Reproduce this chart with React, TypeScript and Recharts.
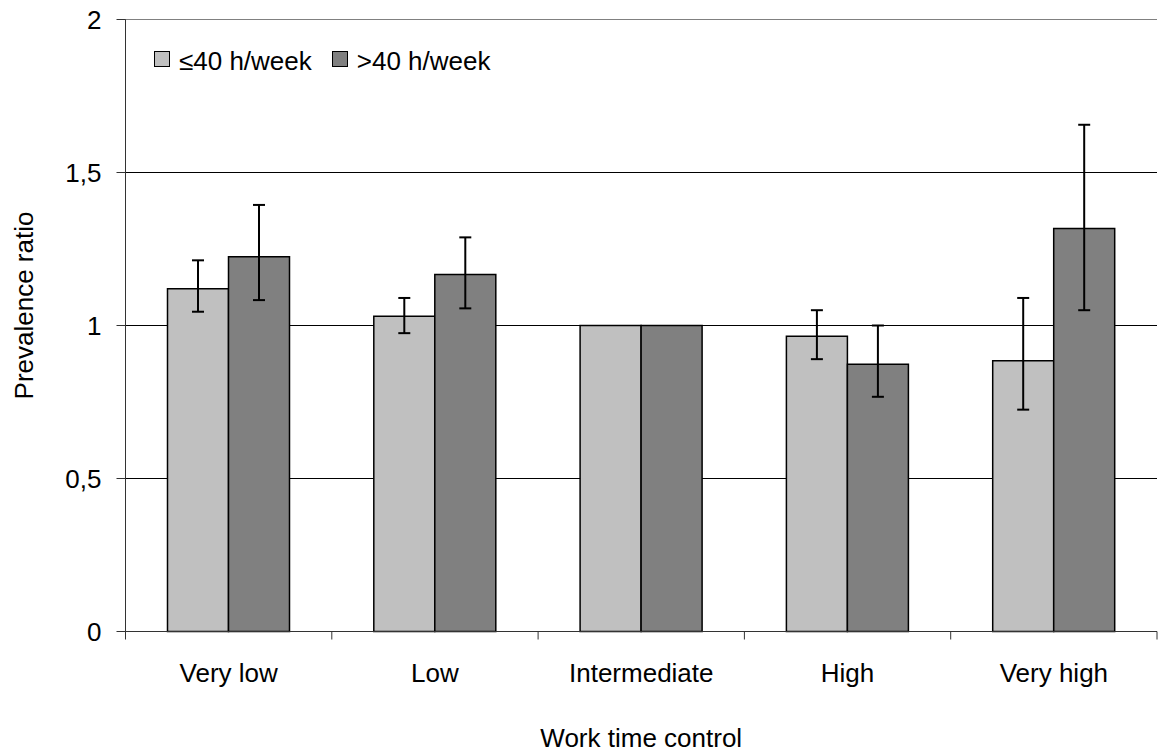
import React from "react"
import {
  Bar,
  BarChart,
  CartesianGrid,
  ErrorBar,
  ReferenceLine,
  XAxis,
  YAxis,
} from "recharts"

const FONT = "Arial, 'Liberation Sans', sans-serif"

const categories = ["Very low", "Low", "Intermediate", "High", "Very high"]

// prevalence ratio, ≤40 h/week
const shortWeek = [1.12, 1.03, 1.0, 0.965, 0.885]
const shortWeekLow = [1.045, 0.975, null, 0.89, 0.725]
const shortWeekHigh = [1.213, 1.09, null, 1.05, 1.09]

// prevalence ratio, >40 h/week
const longWeek = [1.225, 1.167, 1.0, 0.873, 1.317]
const longWeekLow = [1.083, 1.056, null, 0.767, 1.05]
const longWeekHigh = [1.394, 1.288, null, 1.0, 1.656]

const yTicks = [0, 0.5, 1, 1.5, 2]

const LIGHT = "#c0c0c0"
const DARK = "#808080"

const errDelta = (v: number, lo: number | null, hi: number | null) =>
  lo == null || hi == null ? null : [v - lo, hi - v]

const data = categories.map((name, i) => ({
  name,
  short: shortWeek[i],
  shortErr: errDelta(shortWeek[i], shortWeekLow[i], shortWeekHigh[i]),
  long: longWeek[i],
  longErr: errDelta(longWeek[i], longWeekLow[i], longWeekHigh[i]),
}))

const X_TICK_SIZE = 8
const X_TICK_MARGIN = 24

const CategoryTick = (props: any) => {
  const { x, y, payload, index, visibleTicksCount } = props
  const half = payload?.offset ?? 103
  const axisY = y - X_TICK_SIZE - X_TICK_MARGIN
  const last = index === (visibleTicksCount ?? categories.length) - 1
  return (
    <g>
      <line x1={x - half} x2={x - half} y1={axisY} y2={axisY + X_TICK_SIZE} stroke="#333" />
      {last && (
        <line x1={x + half} x2={x + half} y1={axisY} y2={axisY + X_TICK_SIZE} stroke="#333" />
      )}
      <text
        x={x}
        y={y}
        dy="0.71em"
        textAnchor="middle"
        fill="#000"
        fontSize={26}
        fontFamily={FONT}
      >
        {payload.value}
      </text>
    </g>
  )
}

const LegendBox = () => {
  const swatch = (fill: string, ml: number) => (
    <span
      style={{
        display: "inline-block",
        width: 16,
        height: 16,
        boxSizing: "border-box",
        border: "1px solid #000",
        background: fill,
        marginLeft: ml,
        marginRight: 9,
        position: "relative",
        top: -2,
      }}
    />
  )
  return (
    <div
      style={{
        position: "absolute",
        top: 46,
        left: 154,
        display: "flex",
        alignItems: "center",
        fontFamily: FONT,
        fontSize: 26,
        lineHeight: "30px",
        color: "#000",
        whiteSpace: "nowrap",
      }}
    >
      {swatch(LIGHT, 0)}
      <span>≤40 h/week</span>
      {swatch(DARK, 20)}
      <span>&gt;40 h/week</span>
    </div>
  )
}

const YTitle = (props: any) => {
  const vb = props.viewBox || { x: 0, y: 20, height: 612 }
  const cx = vb.x + 33
  const cy = vb.y + vb.height / 2 - 20
  return (
    <text
      x={cx}
      y={cy}
      transform={`rotate(-90, ${cx}, ${cy})`}
      textAnchor="middle"
      fill="#000"
      fontSize={26}
      fontFamily={FONT}
    >
      Prevalence ratio
    </text>
  )
}

export default function App() {
  return (
    <div style={{ position: "absolute", left: 0, top: 0, width: 1169, height: 754, background: "#fff" }}>
      <BarChart
        width={1169}
        height={754}
        data={data}
        margin={{ top: 19.5, right: 12, bottom: 0, left: 0 }}
        barGap={0}
        barCategoryGap={42}
      >
        <CartesianGrid vertical={false} stroke="#000" strokeWidth={1} />
        <ReferenceLine y={2} stroke="#808080" strokeWidth={1} />
        <XAxis
          dataKey="name"
          height={122.5}
          stroke="#333"
          tickSize={X_TICK_SIZE}
          tickMargin={X_TICK_MARGIN}
          tickLine={{ stroke: "none" }}
          tick={<CategoryTick />}
          interval={0}
          label={{
            value: "Work time control",
            position: "insideBottom",
            offset: 7,
            fill: "#000",
            fontSize: 26,
            fontFamily: FONT,
          }}
        />
        <YAxis
          width={125.5}
          domain={[0, 2]}
          ticks={yTicks}
          interval={0}
          stroke="#333"
          tickSize={9}
          tickMargin={15}
          tickFormatter={(v: number) => String(v).replace(".", ",")}
          tick={{ fill: "#000", fontSize: 26, fontFamily: FONT }}
          label={{ content: <YTitle /> }}
        />
        <Bar dataKey="short" name="≤40 h/week" fill={LIGHT} stroke="#000" strokeWidth={1.5} isAnimationActive={false}>
          <ErrorBar dataKey="shortErr" width={6} stroke="#000" strokeWidth={2} isAnimationActive={false} />
        </Bar>
        <Bar dataKey="long" name=">40 h/week" fill={DARK} stroke="#000" strokeWidth={1.5} isAnimationActive={false}>
          <ErrorBar dataKey="longErr" width={6} stroke="#000" strokeWidth={2} isAnimationActive={false} />
        </Bar>
      </BarChart>
      <LegendBox />
    </div>
  )
}
